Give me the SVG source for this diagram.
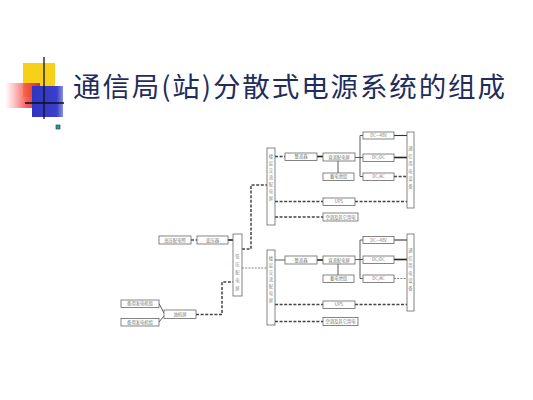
<svg xmlns="http://www.w3.org/2000/svg" width="533" height="400" viewBox="0 0 533 400">
<defs>
<linearGradient id="rg" x1="0" y1="0" x2="1" y2="0">
<stop offset="0" stop-color="#ff6a6a" stop-opacity="0"/>
<stop offset="0.6" stop-color="#f04848" stop-opacity="0.85"/>
<stop offset="1" stop-color="#e02828"/>
</linearGradient>
<linearGradient id="bg" x1="0" y1="0" x2="1" y2="0">
<stop offset="0" stop-color="#2f35c0"/>
<stop offset="0.8" stop-color="#3a40cc"/>
<stop offset="1" stop-color="#8a8ee0"/>
</linearGradient>
<linearGradient id="ul" x1="0" y1="0" x2="1" y2="0">
<stop offset="0" stop-color="#777"/>
<stop offset="1" stop-color="#ccc"/>
</linearGradient>
<style>
.b{fill:#fff;stroke:#666;stroke-width:0.8}
.t{font-family:"Noto Sans CJK SC","Liberation Sans",sans-serif;font-size:4.3px;fill:#777;text-anchor:middle}
.v{font-family:"Noto Sans CJK SC",sans-serif;font-size:4.3px;fill:#888;text-anchor:middle}
.s{fill:none;stroke:#333;stroke-width:0.8}
.sk{fill:none;stroke:#222;stroke-width:1.6}
.d{fill:none;stroke:#444;stroke-width:1.5;stroke-dasharray:3 1.6}
.dt{fill:none;stroke:#666;stroke-width:0.8;stroke-dasharray:2 1.2}
</style>
</defs>
<rect width="533" height="400" fill="#fff"/>
<g id="decor">
<rect x="23" y="63" width="32" height="34" fill="#f7d117"/>
<rect x="5" y="83" width="35" height="25" fill="url(#rg)"/>
<rect x="32" y="86" width="31" height="31" fill="url(#bg)"/>
<line x1="44" y1="57" x2="44" y2="119" stroke="#111" stroke-width="1.3"/>
<line x1="25" y1="103" x2="64" y2="103" stroke="#111" stroke-width="1.3"/>
<line x1="60" y1="112" x2="507" y2="112" stroke="url(#ul)" stroke-width="1"/>
<rect x="56" y="125" width="4" height="4" fill="#2aa08a" stroke="#135" stroke-width="0.6"/>
</g>
<text x="73" y="97" font-family="Noto Sans CJK SC,sans-serif" font-size="27.5" fill="#1f2d5c" textLength="432" lengthAdjust="spacing">通信局(站)分散式电源系统的组成</text>
<g id="connectors">
<line class="d" x1="191" y1="240" x2="197" y2="240"/>
<line class="sk" x1="228" y1="240" x2="233" y2="240"/>
<polyline class="d" points="242,249 251,249 251,185 267,185"/>
<polyline class="dt" points="242,268 267,268"/>
<polyline class="d" points="196,314.5 222,314.5 222,282 233,282"/>
<line class="s" x1="159" y1="303.5" x2="164" y2="313"/>
<line class="s" x1="159" y1="322" x2="164" y2="316"/>
<line class="d" x1="275" y1="156.5" x2="285" y2="156.5"/>
<line class="sk" x1="317" y1="156.5" x2="323" y2="156.5"/>
<line class="s" x1="355" y1="157.5" x2="363" y2="157.5"/>
<line class="s" x1="360" y1="135.5" x2="360" y2="176.5"/>
<line class="s" x1="360" y1="135.5" x2="363" y2="135.5"/>
<line class="s" x1="360" y1="176.5" x2="363" y2="176.5"/>
<line class="s" x1="338" y1="161" x2="338" y2="173"/>
<line class="s" x1="394" y1="135.5" x2="407" y2="135.5" style="stroke-width:1.1"/>
<line class="sk" x1="394" y1="157.5" x2="407" y2="157.5"/>
<line class="d" x1="394" y1="176.5" x2="407" y2="176.5"/>
<line class="d" x1="275" y1="201.5" x2="323" y2="201.5"/>
<line class="d" x1="355" y1="201.5" x2="407" y2="201.5"/>
<line class="d" x1="275" y1="217" x2="323" y2="217"/>
<line class="s" x1="275" y1="260" x2="285" y2="260"/>
<line class="sk" x1="317" y1="260" x2="323" y2="260"/>
<line class="s" x1="355" y1="259.5" x2="363" y2="259.5"/>
<line class="s" x1="360" y1="240" x2="360" y2="278.5"/>
<line class="s" x1="360" y1="240" x2="363" y2="240"/>
<line class="s" x1="360" y1="278.5" x2="363" y2="278.5"/>
<line class="s" x1="338" y1="264" x2="338" y2="275"/>
<line class="s" x1="394" y1="240" x2="407" y2="240" style="stroke-width:1.1"/>
<line class="sk" x1="394" y1="259.5" x2="407" y2="259.5"/>
<line class="dt" x1="394" y1="278.5" x2="407" y2="278.5"/>
<line class="d" x1="275" y1="304.5" x2="323" y2="304.5"/>
<line class="d" x1="355" y1="304.5" x2="407" y2="304.5"/>
<line class="d" x1="275" y1="321.5" x2="323" y2="321.5"/>
</g>
<g id="n-gaoya"><rect class="b" x="159" y="236" width="32" height="8"/><text class="t" x="175" y="241.6">高压配电所</text></g>
<g id="n-bianyaqi"><rect class="b" x="197" y="236" width="31" height="8"/><text class="t" x="212.5" y="241.6">变压器</text></g>
<g id="n-diya"><rect class="b" x="233" y="234" width="9" height="62"/>
<text class="v" x="237.5" y="258">低</text><text class="v" x="237.5" y="266">压</text><text class="v" x="237.5" y="274">配</text><text class="v" x="237.5" y="282">电</text><text class="v" x="237.5" y="290">屏</text></g>
<g id="n-gen1"><rect class="b" x="121" y="300" width="38" height="7.5"/><text class="t" x="140" y="305.3">备用发电机组</text></g>
<g id="n-gen2"><rect class="b" x="121" y="318.5" width="38" height="7.5"/><text class="t" x="140" y="323.8">备用发电机组</text></g>
<g id="n-youji"><rect class="b" x="164" y="310" width="32" height="8.5"/><text class="t" x="180" y="316">油机屏</text></g>
<g id="n-jl1"><rect class="b" x="267" y="148" width="8" height="77"/>
<text class="v" x="271" y="158">楼</text><text class="v" x="271" y="165">层</text><text class="v" x="271" y="172">交</text><text class="v" x="271" y="179">流</text><text class="v" x="271" y="186">配</text><text class="v" x="271" y="193">电</text><text class="v" x="271" y="200">屏</text></g>
<g id="n-zl1"><rect class="b" x="285" y="153" width="32" height="7.5"/><text class="t" x="301" y="158.3">整流器</text></g>
<g id="n-zp1"><rect class="b" x="323" y="153" width="32" height="8"/><text class="t" x="339" y="158.5">直流配电屏</text></g>
<g id="n-xd1"><rect class="b" x="323" y="173" width="31" height="7.5"/><text class="t" x="338.5" y="178.3">蓄电池组</text></g>
<g id="n-dc48a"><rect class="b" x="363" y="132" width="31" height="7"/><text class="t" x="378.5" y="137">DC—48V</text></g>
<g id="n-dcdca"><rect class="b" x="363" y="154" width="31" height="7.5"/><text class="t" x="378.5" y="159.3">DC/DC</text></g>
<g id="n-dcaca"><rect class="b" x="363" y="173" width="31" height="7.5"/><text class="t" x="378.5" y="178.3">DC/AC</text></g>
<g id="n-sb1"><rect class="b" x="407" y="132" width="7" height="76"/>
<text class="v" x="410.5" y="150">通</text><text class="v" x="410.5" y="157.5">信</text><text class="v" x="410.5" y="165">用</text><text class="v" x="410.5" y="172.5">电</text><text class="v" x="410.5" y="180">设</text><text class="v" x="410.5" y="187.5">备</text></g>
<g id="n-ups1"><rect class="b" x="323" y="198" width="32" height="7.5"/><text class="t" x="339" y="203.3">UPS</text></g>
<g id="n-kt1"><rect class="b" x="323" y="213" width="35" height="8"/><text class="t" x="340.5" y="218.6">空调及其它用电</text></g>
<g id="n-jl2"><rect class="b" x="267" y="250" width="8" height="75"/>
<text class="v" x="271" y="260">楼</text><text class="v" x="271" y="267">层</text><text class="v" x="271" y="274">交</text><text class="v" x="271" y="281">流</text><text class="v" x="271" y="288">配</text><text class="v" x="271" y="295">电</text><text class="v" x="271" y="302">屏</text></g>
<g id="n-zl2"><rect class="b" x="285" y="256" width="32" height="8"/><text class="t" x="301" y="261.5">整流器</text></g>
<g id="n-zp2"><rect class="b" x="323" y="256" width="32" height="8"/><text class="t" x="339" y="261.5">直流配电屏</text></g>
<g id="n-xd2"><rect class="b" x="323" y="275" width="31" height="7.5"/><text class="t" x="338.5" y="280.3">蓄电池组</text></g>
<g id="n-dc48b"><rect class="b" x="363" y="236.5" width="31" height="7"/><text class="t" x="378.5" y="241.5">DC—48V</text></g>
<g id="n-dcdcb"><rect class="b" x="363" y="256" width="31" height="7.5"/><text class="t" x="378.5" y="261.3">DC/DC</text></g>
<g id="n-dcacb"><rect class="b" x="363" y="275" width="31" height="7.5"/><text class="t" x="378.5" y="280.3">DC/AC</text></g>
<g id="n-sb2"><rect class="b" x="407" y="234" width="7" height="77"/>
<text class="v" x="410.5" y="252">通</text><text class="v" x="410.5" y="259.5">信</text><text class="v" x="410.5" y="267">用</text><text class="v" x="410.5" y="274.5">电</text><text class="v" x="410.5" y="282">设</text><text class="v" x="410.5" y="289.5">备</text></g>
<g id="n-ups2"><rect class="b" x="323" y="301" width="32" height="7.5"/><text class="t" x="339" y="306.3">UPS</text></g>
<g id="n-kt2"><rect class="b" x="323" y="317.5" width="35" height="8"/><text class="t" x="340.5" y="323.1">空调及其它用电</text></g>
</svg>
